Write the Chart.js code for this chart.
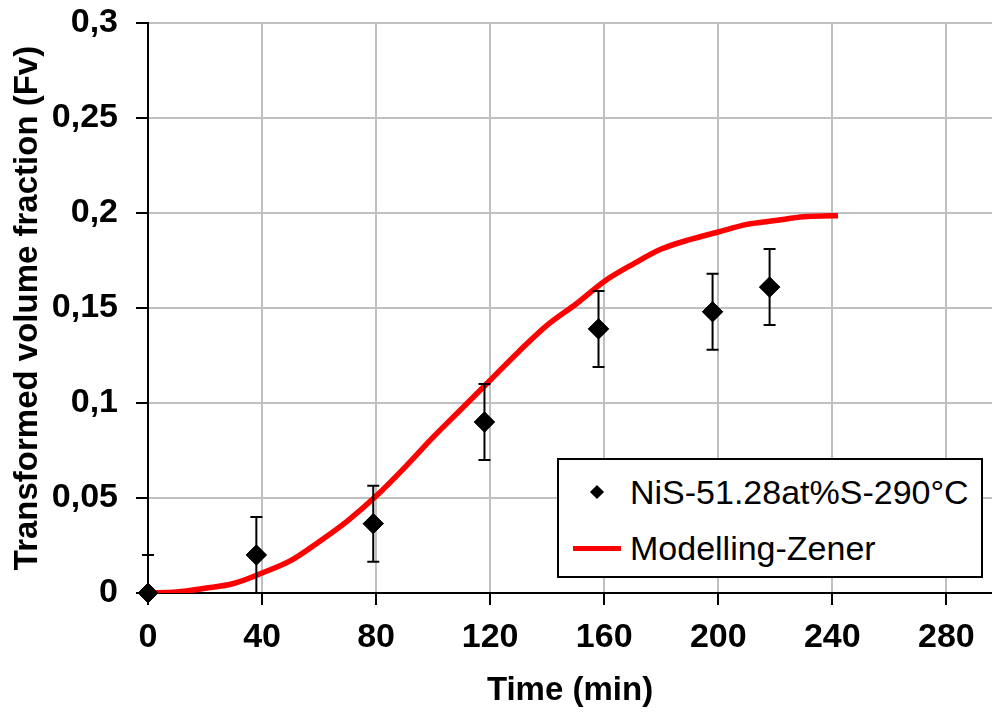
<!DOCTYPE html>
<html>
<head>
  <title>Transformed volume fraction vs time</title>
  <script src="https://cdn.jsdelivr.net/npm/chart.js"></script>
  <style>
    body { margin: 0; background: #fff; font-family: "Liberation Sans", Arial, sans-serif; overflow: hidden; }
    #wrap { position: relative; width: 992px; height: 715px; overflow: hidden; }
    #legend { position: absolute; left: 557px; top: 458px; width: 422px; height: 116px;
              border: 2px solid #000; background: #fff; font-size: 34px; color: #000; }
    .row { position: absolute; left: 0; height: 40px; line-height: 40px; white-space: nowrap; }
    .row span { position: absolute; left: 71px; }
    .diamond { position: absolute; left: 33px; top: 15px; width: 10px; height: 10px; background: #000; transform: rotate(45deg); }
    .redline { position: absolute; left: 14px; top: 18px; width: 48px; height: 5px; background: #ff0000; }
  </style>
</head>
<body>
  <div id="wrap">
    <!-- canvas a bit wider than the page: the plot area runs off the right edge like the original -->
    <canvas id="chart" width="1003" height="715"></canvas>
    <div id="legend">
      <div class="row" style="top: 12px;"><div class="diamond"></div><span>NiS-51.28at%S-290°C</span></div>
      <div class="row" style="top: 68px;"><div class="redline"></div><span>Modelling-Zener</span></div>
    </div>
  </div>
  <script>
    // measured points
    const expTime = [0, 38, 79, 118, 158, 198, 218];
    const expFv = [0, 0.02, 0.0365, 0.09, 0.139, 0.148, 0.161];
    const expErr = [0.02, 0.02, 0.02, 0.02, 0.02, 0.02, 0.02];

    // Zener model curve
    const modelTime = [0, 10, 20, 30, 40, 50, 60, 70, 80, 90, 100, 110, 120, 130, 140, 150, 160, 170, 180, 190, 200, 210, 220, 230, 240, 242];
    const modelFv = [0, 0.0005, 0.0025, 0.005, 0.0105, 0.017, 0.027, 0.038, 0.051, 0.066, 0.082, 0.097, 0.112, 0.127, 0.141, 0.152, 0.164, 0.173, 0.181, 0.186, 0.19, 0.194, 0.196, 0.198, 0.1985, 0.1986];

    const xTicks = [0, 40, 80, 120, 160, 200, 240, 280];

    const tickFont = { family: '"Liberation Sans", Arial, sans-serif', size: 34, weight: 'bold' };
    const titleFont = { family: '"Liberation Sans", Arial, sans-serif', size: 33, weight: 'bold' };

    const errorBars = {
      id: 'errorBars',
      afterDatasetsDraw(chart) {
        const ctx = chart.ctx;
        const xs = chart.scales.x, ys = chart.scales.y;
        const area = chart.chartArea;
        ctx.save();
        ctx.beginPath();
        ctx.rect(area.left - 10, area.top, area.right - area.left + 20, area.bottom - area.top + 3);
        ctx.clip();
        ctx.strokeStyle = '#000';
        ctx.lineWidth = 2;
        for (let i = 0; i < expTime.length; i++) {
          const x = xs.getPixelForValue(expTime[i]);
          const yTop = ys.getPixelForValue(expFv[i] + expErr[i]);
          const yBot = ys.getPixelForValue(expFv[i] - expErr[i]);
          ctx.beginPath();
          ctx.moveTo(x, yTop); ctx.lineTo(x, yBot);
          ctx.moveTo(x - 6, yTop); ctx.lineTo(x + 6, yTop);
          ctx.moveTo(x - 6, yBot); ctx.lineTo(x + 6, yBot);
          ctx.stroke();
        }
        ctx.restore();
        // redraw diamonds over the bars
        chart.getDatasetMeta(1).data.forEach(p => p.draw(ctx, undefined));
      }
    };

    const chart = new Chart(document.getElementById('chart'), {
      type: 'scatter',
      data: {
        datasets: [{
          label: 'Modelling-Zener',
          data: modelTime.map((t, i) => ({ x: t, y: modelFv[i] })),
          showLine: true,
          borderColor: '#ff0000',
          borderWidth: 5.5,
          pointRadius: 0,
          cubicInterpolationMode: 'monotone'
        }, {
          label: 'NiS-51.28at%S-290°C',
          data: expTime.map((t, i) => ({ x: t, y: expFv[i] })),
          pointStyle: 'rectRot',
          pointRadius: 10,
          backgroundColor: '#000',
          borderColor: '#000',
          borderWidth: 1,
          clip: false
        }]
      },
      options: {
        responsive: false,
        animation: false,
        layout: { padding: { top: 23, right: 0, left: 0, bottom: 0 } },
        plugins: { legend: { display: false }, tooltip: { enabled: false } },
        scales: {
          x: {
            type: 'linear',
            min: 0,
            max: 296,
            afterBuildTicks: scale => { scale.ticks = xTicks.map(v => ({ value: v })); },
            afterFit: scale => { scale.height = 122; scale.paddingLeft = 0; scale.paddingRight = 0; },
            ticks: { color: '#000', font: tickFont, padding: 12, maxRotation: 0 },
            grid: { color: '#c0c0c0', lineWidth: 2, tickColor: '#000', tickLength: 12 },
            border: { color: '#000', width: 2 },
            title: { display: true, text: 'Time (min)', color: '#000', font: titleFont, padding: { top: 0, bottom: 4 } }
          },
          y: {
            min: 0,
            max: 0.3,
            ticks: {
              stepSize: 0.05,
              color: '#000',
              font: tickFont,
              padding: 18,
              callback: v => String(parseFloat(v.toFixed(2))).replace('.', ',')
            },
            afterFit: scale => { scale.width = 148; scale.paddingTop = 0; scale.paddingBottom = 0; },
            grid: { color: '#c0c0c0', lineWidth: 2, tickColor: '#000', tickLength: 12 },
            border: { color: '#000', width: 2 },
            title: { display: true, text: 'Transformed volume fraction (Fv)', color: '#000', font: titleFont, padding: { top: 8, bottom: 0 } }
          }
        }
      },
      plugins: [errorBars]
    });
  </script>
</body>
</html>
